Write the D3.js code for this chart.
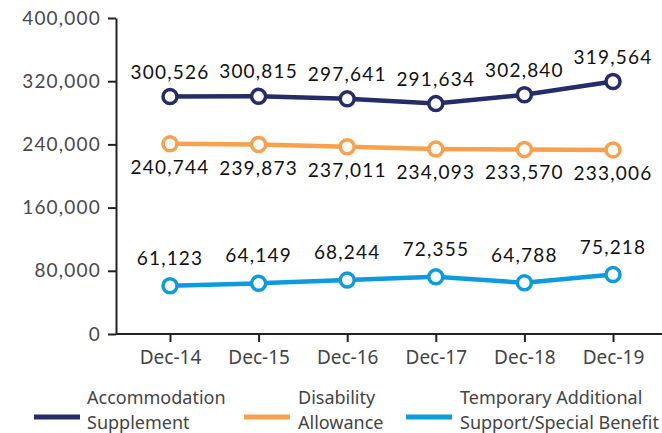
<!DOCTYPE html>
<html><head><meta charset="utf-8">
<script src="https://cdn.jsdelivr.net/npm/d3@7"></script>
<style>
html,body{margin:0;padding:0;background:#fff;}
svg{display:block;}
</style></head>
<body>
<svg id="chart" width="662" height="433"></svg>
<script>
const categories = ["Dec-14","Dec-15","Dec-16","Dec-17","Dec-18","Dec-19"];
const accommodation = [300526,300815,297641,291634,302840,319564];
const disability = [240744,239873,237011,234093,233570,233006];
const temporary = [61123,64149,68244,72355,64788,75218];
const yTicks = [0,80000,160000,240000,320000,400000];
const seriesNames = [["Accommodation","Supplement"],["Disability","Allowance"],["Temporary Additional","Support/Special Benefit"]];
const colors = ["#262b6a","#f9a04c","#0c9bdc"];

(function(){
const svg = d3.select("#chart");
const mLeft = 116, mRight = 662, mTop = 18, mBottom = 334;
const x = d3.scalePoint().domain(categories).range([170, 613]);
const y = d3.scaleLinear().domain([0,400000]).range([mBottom, mTop]);
const fmt = d3.format(",");
const numFont = "Lato, 'DejaVu Sans', sans-serif";
const txtFont = "'Noto Sans', sans-serif";

// y axis
const yAxis = svg.append("g").attr("transform",`translate(${mLeft},0)`)
  .call(d3.axisLeft(y).tickValues(yTicks).tickFormat(fmt).tickSize(8).tickSizeOuter(0));
yAxis.select(".domain").attr("stroke","#222").attr("stroke-width",2);
yAxis.selectAll(".tick line").attr("stroke","#222").attr("stroke-width",2);
yAxis.selectAll(".tick text").attr("x",-15).attr("fill","#4a4a4a")
  .style("font-family",numFont).style("font-size","19px").style("letter-spacing","1.2px");

// x axis
const xAxis = svg.append("g").attr("transform",`translate(0,${mBottom})`)
  .call(d3.axisBottom(x).tickSize(8).tickSizeOuter(0));
xAxis.select(".domain").attr("d",`M${mLeft},0H${mRight}`).attr("stroke","#222").attr("stroke-width",2);
xAxis.selectAll(".tick line").attr("stroke","#222").attr("stroke-width",2);
xAxis.selectAll(".tick text").attr("y",17).attr("fill","#444")
  .style("font-family",txtFont).style("font-size","19px");

const series = [
  {vals: accommodation, color: colors[0], dy: -18},
  {vals: disability, color: colors[1], dy: 30},
  {vals: temporary, color: colors[2], dy: -21}
];
const line = d3.line().x((d,i)=>x(categories[i])).y(d=>y(d));
series.forEach(s=>{
  const g = svg.append("g");
  g.append("path").datum(s.vals).attr("d",line).attr("fill","none")
    .attr("stroke",s.color).attr("stroke-width",4.5);
  g.selectAll("circle").data(s.vals).join("circle")
    .attr("cx",(d,i)=>x(categories[i])).attr("cy",d=>y(d)).attr("r",7)
    .attr("fill","#fff").attr("stroke",s.color).attr("stroke-width",3.5);
  g.selectAll("text").data(s.vals).join("text")
    .attr("x",(d,i)=>x(categories[i])).attr("y",d=>y(d)+s.dy)
    .attr("text-anchor","middle").attr("fill","#111")
    .style("font-family",numFont).style("font-size","19px").style("letter-spacing","1.2px")
    .text(d=>fmt(d));
});

// legend
const legendPos = [{sx:34, tx:87},{sx:244, tx:298},{sx:406, tx:460}];
legendPos.forEach((p,i)=>{
  svg.append("line").attr("x1",p.sx).attr("x2",p.sx+46).attr("y1",417).attr("y2",417)
    .attr("stroke",colors[i]).attr("stroke-width",5);
  const t = svg.append("text").attr("x",p.tx).attr("fill","#444")
    .style("font-family",txtFont).style("font-size","18px");
  t.append("tspan").attr("x",p.tx).attr("y",404).text(seriesNames[i][0]);
  t.append("tspan").attr("x",p.tx).attr("y",429).text(seriesNames[i][1]);
});
})();
</script>
</body></html>
